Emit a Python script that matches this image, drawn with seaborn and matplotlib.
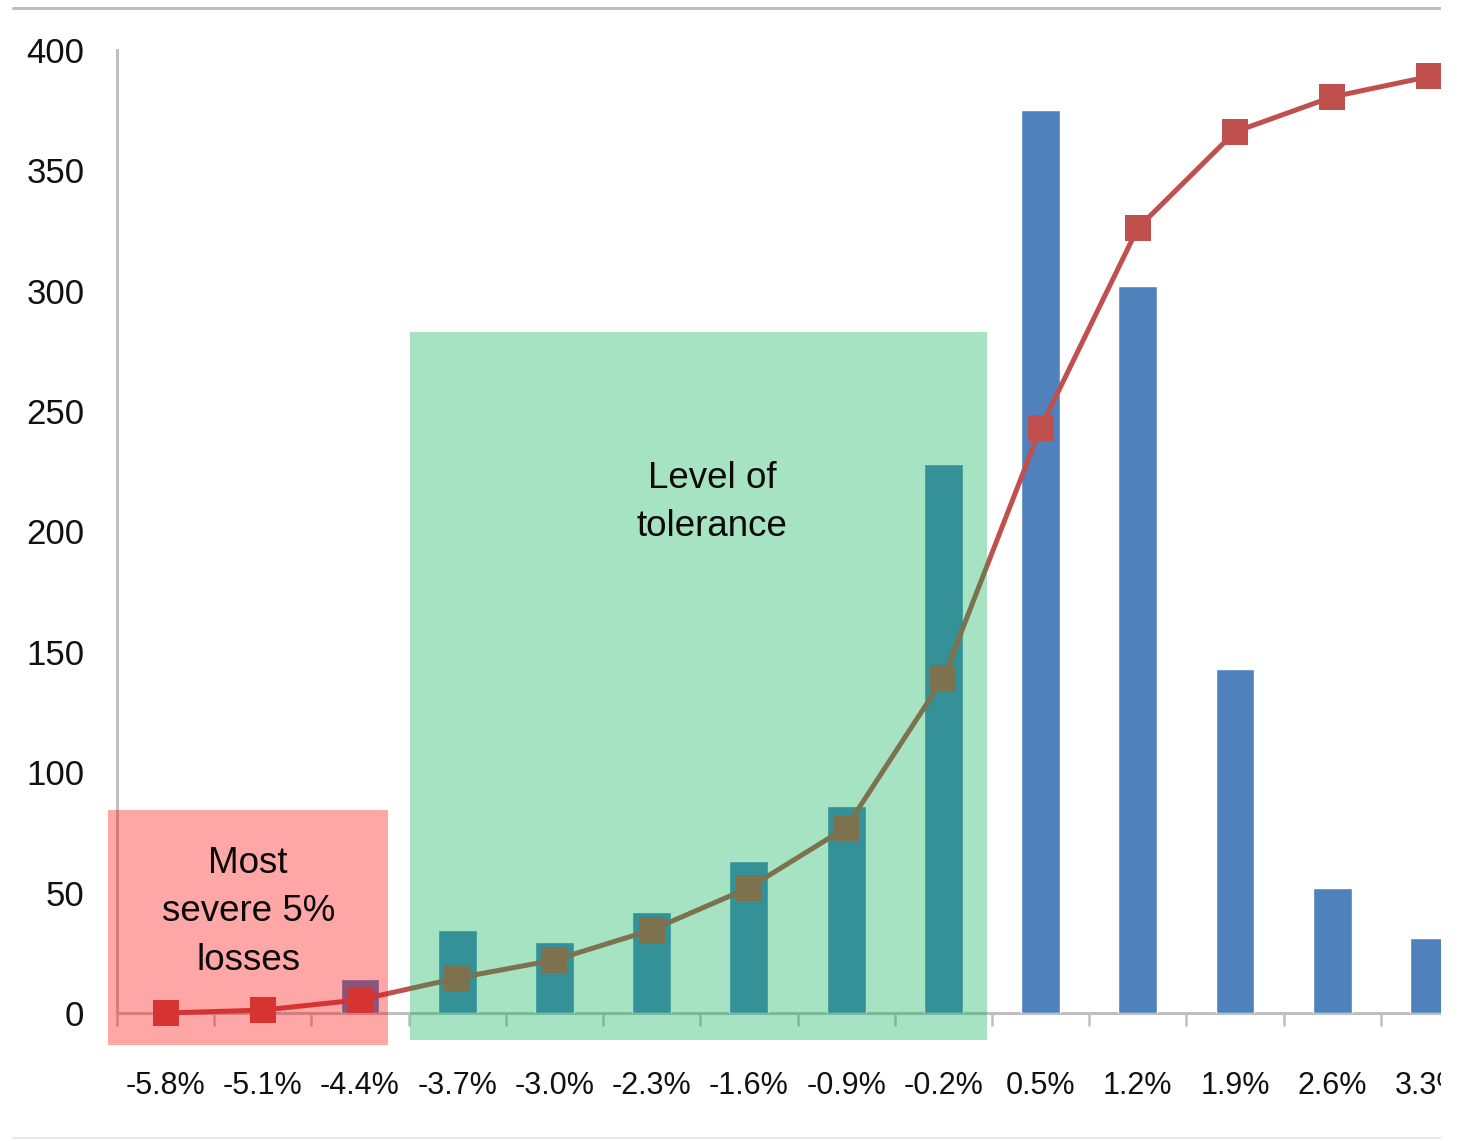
import matplotlib
matplotlib.use("Agg")
import matplotlib.pyplot as plt
from matplotlib.patches import Rectangle
from matplotlib.lines import Line2D
from matplotlib import font_manager as fm
import seaborn as sns
import numpy as np

# ---- data ----
categories = ["-5.8%", "-5.1%", "-4.4%", "-3.7%", "-3.0%", "-2.3%", "-1.6%",
              "-0.9%", "-0.2%", "0.5%", "1.2%", "1.9%", "2.6%", "3.3%"]
frequency = [0, 1, 14, 34.5, 29.5, 42, 63, 86, 228, 375, 302, 143, 52, 31]
cumulative = [0, 1.2, 5.5, 14.5, 22, 34.5, 52, 77, 139, 243, 326, 366, 380.5, 389]
y_ticks = [0, 50, 100, 150, 200, 250, 300, 350, 400]
red_label = "Most\nsevere 5%\nlosses"
green_label = "Level of\ntolerance"

sns.set_theme(style="white")
names = {f.name for f in fm.fontManager.ttflist}
fam = "Liberation Sans Narrow" if "Liberation Sans Narrow" in names else "Liberation Sans"
narrow = fam == "Liberation Sans Narrow"
plt.rcParams["font.family"] = [fam, "DejaVu Sans"]

W, H = 1460, 1141
fig = plt.figure(figsize=(W / 100, H / 100), dpi=100)
fig.patch.set_facecolor("white")

x0, x1 = 117, 1478
y0, y1 = 1013, 50
ax = fig.add_axes([x0 / W, 1 - y0 / H, (x1 - x0) / W, (y0 - y1) / H])
ax.set_facecolor("none")

BLUE = "#4F81BD"
RED = "#C0504D"

sns.barplot(x=categories, y=frequency, color=BLUE, width=0.4, saturation=1,
            ax=ax, zorder=2)
sns.pointplot(x=categories, y=cumulative, color=RED, markers="s",
              markersize=19, linewidth=3.6, ax=ax, zorder=3)
for l in ax.lines:
    l.set_markeredgewidth(0)
    l.set_color(RED)
    l.set_clip_on(False)

ax.set_xlim(-0.5, len(categories) - 0.5)
ax.set_ylim(0, 400)
ax.set_yticks(y_ticks)
ax.set_yticklabels([str(v) for v in y_ticks])
ax.set_xlabel("")
ax.set_ylabel("")

# spines
for s in ["top", "right"]:
    ax.spines[s].set_visible(False)
for s in ["left", "bottom"]:
    ax.spines[s].set_color("#BFBFBF")
    ax.spines[s].set_linewidth(2.2)
    ax.spines[s].set_zorder(1.5)

ysz = 28 if narrow else 25
xsz = 26 if narrow else 22
tsz = 31 if narrow else 26.5

# ticks
ax.tick_params(axis="y", direction="inout", length=11, width=1.8, color="#BFBFBF",
               pad=18, labelsize=ysz, labelcolor="#111111")
ax.set_xticks(np.arange(len(categories)))
ax.set_xticklabels(categories)
ax.set_xticks(np.arange(len(categories)) - 0.5, minor=True)
ax.tick_params(axis="x", which="major", length=0, pad=42, labelsize=xsz,
               labelcolor="#111111")
ax.tick_params(axis="x", which="minor", direction="out", length=9, width=1.8,
               color="#BFBFBF", bottom=True)

# overlay boxes
ax.add_patch(Rectangle((-0.59, -13.3), 2.88, 97.6, facecolor="#FF0000",
                       alpha=0.35, edgecolor="none", zorder=4, clip_on=False))
ax.add_patch(Rectangle((2.51, -11.2), 5.94, 294.1, facecolor="#00B050",
                       alpha=0.35, edgecolor="none", zorder=4, clip_on=False))
ax.text(0.85, 42, red_label, ha="center", va="center", fontsize=tsz,
        color="#0A0A0A", linespacing=1.5, zorder=5)
ax.text(5.62, 212, green_label, ha="center", va="center", fontsize=tsz,
        color="#0A0A0A", linespacing=1.5, zorder=5)

# frame lines and right-edge crop
fig.add_artist(Line2D([13 / W, 1440 / W], [1 - 8 / H, 1 - 8 / H],
                      color="#BDBDBD", lw=2.2, transform=fig.transFigure))
fig.add_artist(Line2D([13 / W, 1440 / W], [1 - 1138 / H, 1 - 1138 / H],
                      color="#E8E8E8", lw=1.5, transform=fig.transFigure))
fig.add_artist(Rectangle((1441 / W, 0), 19 / W, 1, facecolor="white",
                         edgecolor="none", transform=fig.transFigure, zorder=100))

fig.savefig("out.png", dpi=100, facecolor="white")
